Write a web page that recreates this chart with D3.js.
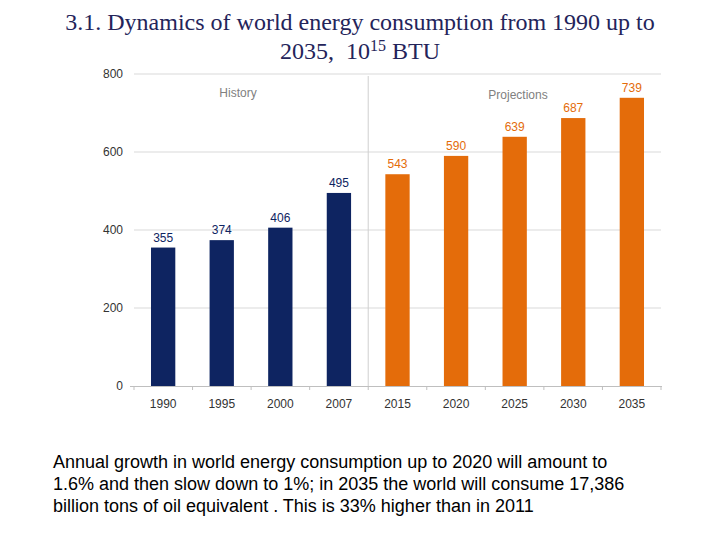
<!DOCTYPE html>
<html>
<head>
<meta charset="utf-8">
<script src="https://cdn.jsdelivr.net/npm/d3@7"></script>
<style>
  body { margin: 0; background: #fff; }
</style>
</head>
<body>
<div id="chart"></div>
<script>
const years = ["1990", "1995", "2000", "2007", "2015", "2020", "2025", "2030", "2035"];
const values = [355, 374, 406, 495, 543, 590, 639, 687, 739];
const isHistory = [true, true, true, true, false, false, false, false, false];
const yTicks = [0, 200, 400, 600, 800];
const noteLines = [
    "Annual growth in world energy consumption up to 2020 will amount to",
    "1.6% and then slow down to 1%; in 2035 the world will consume 17,386",
    "billion tons of oil equivalent . This is 33% higher than in 2011"
];

const W = 720, H = 540;
const navy = "#0e2461", orange = "#e46c0a";
const sans = "'Liberation Sans', Arial, sans-serif";

const svg = d3.select("#chart").append("svg")
    .attr("width", W)
    .attr("height", H);

// title
const title = svg.append("text")
    .attr("font-family", "'Liberation Serif', 'Times New Roman', serif")
    .attr("font-size", 24)
    .attr("fill", "#24245a")
    .attr("text-anchor", "middle");
title.append("tspan").attr("x", 360).attr("y", 30)
    .text("3.1. Dynamics of world energy consumption from 1990 up to");
title.append("tspan").attr("x", 360).attr("y", 59).text("2035,\u00a0 10");
title.append("tspan").attr("dy", -8).attr("font-size", 16).text("15");
title.append("tspan").attr("dy", 8).text(" BTU");

// chart area
const x = d3.scaleBand()
    .domain(years)
    .range([134, 661])
    .paddingInner(0.585)
    .paddingOuter(0.29);

const y = d3.scaleLinear()
    .domain([0, 800])
    .range([386, 74]);

const g = svg.append("g");

// gridlines
g.selectAll("line.grid")
    .data(yTicks.filter(d => d > 0))
    .join("line")
    .attr("class", "grid")
    .attr("x1", 134).attr("x2", 661)
    .attr("y1", d => y(d)).attr("y2", d => y(d))
    .attr("stroke", "#d9d9d9")
    .attr("stroke-width", 1);

// y axis labels
g.selectAll("text.ytick")
    .data(yTicks)
    .join("text")
    .attr("class", "ytick")
    .attr("x", 123)
    .attr("y", d => y(d) + 4)
    .attr("text-anchor", "end")
    .attr("font-family", sans)
    .attr("font-size", 12)
    .attr("fill", "#333")
    .text(d => d);

// separator history / projections
const sepX = (x("2007") + x.bandwidth() + x("2015")) / 2;
g.append("line")
    .attr("x1", sepX).attr("x2", sepX)
    .attr("y1", 76).attr("y2", y(0))
    .attr("stroke", "#cfcfcf")
    .attr("stroke-width", 1);

// bars
g.selectAll("rect.bar")
    .data(years)
    .join("rect")
    .attr("class", "bar")
    .attr("x", d => x(d))
    .attr("width", x.bandwidth())
    .attr("y", (d, i) => y(values[i]))
    .attr("height", (d, i) => y(0) - y(values[i]))
    .attr("fill", (d, i) => isHistory[i] ? navy : orange);

// value labels
g.selectAll("text.val")
    .data(years)
    .join("text")
    .attr("class", "val")
    .attr("x", d => x(d) + x.bandwidth() / 2)
    .attr("y", (d, i) => y(values[i]) - 6)
    .attr("text-anchor", "middle")
    .attr("font-family", sans)
    .attr("font-size", 12)
    .attr("fill", (d, i) => isHistory[i] ? navy : orange)
    .text((d, i) => values[i]);

// x axis
const xAxis = d3.axisBottom(x).tickSize(0).tickPadding(13);
const ax = g.append("g")
    .attr("transform", `translate(0,${y(0)})`)
    .call(xAxis);
ax.select(".domain").attr("stroke", "#bfbfbf").attr("d", `M130,0.5H662`);
ax.selectAll("text")
    .attr("font-family", sans)
    .attr("font-size", 12)
    .attr("fill", "#333");

// small ticks between categories
g.selectAll("line.xtick")
    .data(d3.range(years.length + 1))
    .join("line")
    .attr("class", "xtick")
    .attr("x1", i => 134 + i * (527 / years.length))
    .attr("x2", i => 134 + i * (527 / years.length))
    .attr("y1", y(0)).attr("y2", y(0) + 4)
    .attr("stroke", "#bfbfbf");

// section labels
g.append("text")
    .attr("x", 238).attr("y", 97)
    .attr("text-anchor", "middle")
    .attr("font-family", sans)
    .attr("font-size", 12)
    .attr("fill", "#808080")
    .text("History");
g.append("text")
    .attr("x", 518).attr("y", 99)
    .attr("text-anchor", "middle")
    .attr("font-family", sans)
    .attr("font-size", 12)
    .attr("fill", "#808080")
    .text("Projections");

// note text
svg.append("g").selectAll("text")
    .data(noteLines)
    .join("text")
    .attr("x", 53)
    .attr("y", (d, i) => 468 + i * 22)
    .attr("font-family", sans)
    .attr("font-size", 18)
    .attr("fill", "#000")
    .text(d => d);
</script>
</body>
</html>
